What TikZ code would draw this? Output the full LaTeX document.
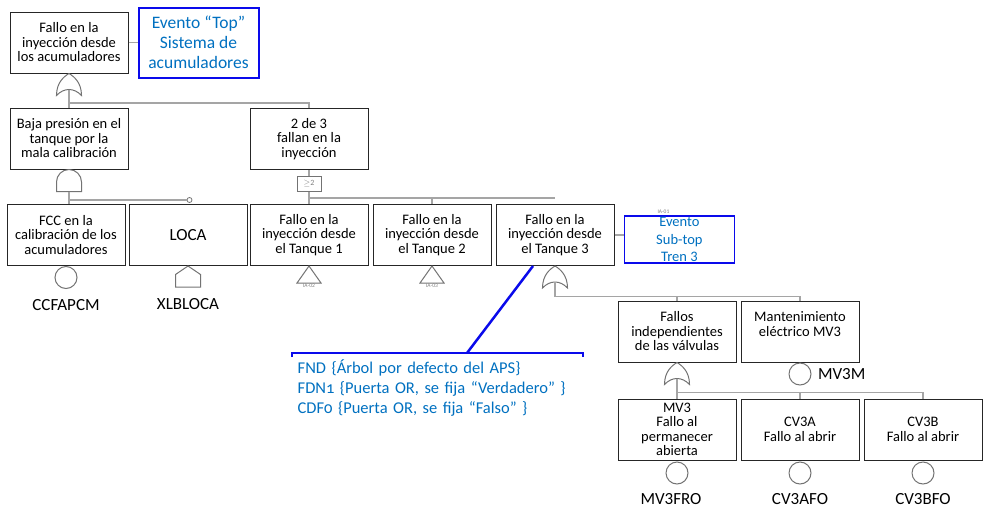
\documentclass[tikz,border=0pt]{standalone}
\usepackage{fontspec}
\setmainfont{Carlito}
\usepackage{xcolor}
\usepackage{tikz}
\usetikzlibrary{calc}
\usetikzlibrary{positioning}

\definecolor{wiregray}{RGB}{165,165,165}
\definecolor{gategray}{RGB}{115,115,115}
\definecolor{apsblue}{RGB}{0,112,192}
\definecolor{markblue}{RGB}{10,10,235}

\begin{document}
\begin{tikzpicture}[x=1pt, y=1pt, node distance=4pt,
	evt/.style={rectangle, draw=black!85, line width=1pt, align=center,
				minimum width=118pt, minimum height=61pt, inner sep=1pt,
				font=\fontsize{14.5}{14.5}\selectfont},
	topev/.style={rectangle, draw=markblue, line width=2pt, align=center,
				text=apsblue, inner sep=0pt},
	basic/.style={circle, draw=gategray, line width=1pt, minimum size=22pt,
				inner sep=0pt},
	lbl/.style={font=\fontsize{17}{17}\selectfont},
	ia/.style={font=\fontsize{5.5}{5.5}\selectfont, text=gray, inner sep=1pt},
	vote/.style={rectangle, draw=gategray, line width=0.8pt, minimum width=24pt,
				minimum height=15pt, inner sep=0pt, text=gray,
				font=\fontsize{8}{8}\selectfont},
	wire/.style={draw=wiregray, line width=1.3pt},
	gate/.style={draw=gategray, line width=1pt},
	note/.style={text=apsblue, align=left, text width=280pt, inner xsep=5.5pt,
				inner ysep=6.5pt, font=\fontsize{16.5}{20}\selectfont},
	bluebar/.style={draw=markblue, line width=2pt},
	orgate/.pic={
		\draw[gate] (-12.5,-22) .. controls (-12.5,-9) and (-5,-3) .. (0,0)
			.. controls (5,-3) and (12.5,-9) .. (12.5,-22)
			.. controls (5,-14) and (-5,-14) .. (-12.5,-22) -- cycle;
		\coordinate (-in) at (0,-16);
	},
	andgate/.pic={
		\draw[gate] (-12.5,-22) -- (-12.5,-12.5)
			arc[start angle=180, end angle=0, radius=12.5pt] -- (12.5,-22) -- cycle;
		\coordinate (-in) at (0,-22);
	},
	house/.pic={
		\draw[gate] (0,0) -- (12.5,-8.5) -- (12.5,-21) -- (-12.5,-21)
			-- (-12.5,-8.5) -- cycle;
		\coordinate (-base) at (0,-21);
	},
	xfer/.pic={
		\draw[gate] (0,0) -- (12,-17) -- (-12,-17) -- cycle;
		\coordinate (-base) at (0,-17);
	},
]
\useasboundingbox (0,0) rectangle (985,-517);
% top event
\node [evt] (top) at (69,-42.5) {Fallo en la\\inyección desde\\los acumuladores};
\node [topev, minimum width=120pt, minimum height=70pt,
	font=\fontsize{17.5}{20}\selectfont] (evtop) [right=9pt of top]
	{Evento “Top”\\Sistema de\\acumuladores};
\draw [wire] (top.east) -- (top.east -| evtop.west);
\pic (g1) at (top.south) {orgate};
%
\node [evt] (baja) [below=34pt of top] {Baja presión en el\\tanque por la\\mala calibración};
\draw [wire] (g1-in) -- (baja.north);
\pic (g2) at (baja.south) {andgate};
%
\node [evt] (fcc) at (66,-235) {FCC en la\\calibración de los\\acumuladores};
\node [evt, font=\fontsize{17}{17}\selectfont] (loca) [right=3pt of fcc] {LOCA};
\node [evt] (t1) [right=2pt of loca] {Fallo en la\\inyección desde\\el Tanque 1};
\node [evt] (t2) [right=of t1] {Fallo en la\\inyección desde\\el Tanque 2};
\node [evt] (t3) [right=of t2] {Fallo en la\\inyección desde\\el Tanque 3};
\node [evt] (dos) [above=34pt of t1] {2 de 3\\fallan en la\\inyección};
\draw [wire] (g1-in) |- ([yshift=5pt]dos.north) -- (dos.north);
%
\node [circle, fill=white, draw=gategray, line width=0.8pt, inner sep=0pt,
	minimum size=5pt] (c1) at ([xshift=1.5pt, yshift=4pt]loca.north) {};
\draw [wire] (g2-in) -- (g2-in |- fcc.north);
\draw [wire] (g2-in) |- (c1);
\node [basic] (bfcc) [below=0pt of fcc] {};
\node [lbl] (lfcc) [below=7pt of bfcc] {CCFAPCM};
\pic (h1) at (loca.south) {house};
\node [lbl] (lloca) [below=8pt of h1-base] {XLBLOCA};
%
\node [vote] (k) [below=6pt of dos] {$\geq$2};
\draw [wire] (dos.south) -- (k.north);
\draw [wire] (k.south) -- (t1.north);
\draw [wire] (k.south) |- ([yshift=6pt]t3.north);
\draw [wire] ([yshift=6pt]t2.north) -- (t2.north);
\pic (x1) at (t1.south) {xfer};
\node [ia] (ia2) [below=0pt of x1-base] {IA-02};
\pic (x2) at (t2.south) {xfer};
\node [ia] (ia3) [below=0pt of x2-base] {IA-03};
%
\node [topev, minimum width=110pt, minimum height=47pt, line width=1.8pt,
	font=\fontsize{14.5}{17.5}\selectfont] (evsub) [right=9pt of t3, yshift=-4.5pt]
	{Evento\\Sub-top\\Tren 3};
\draw [wire] (t3.east) -- (t3.east -| evsub.west);
\node [ia] (ia1) [above=0pt of evsub.north, xshift=-16pt] {IA-01};
\pic (g3) at (t3.south) {orgate};
%
\node [evt] (fallos) at (677,-331.5) {Fallos\\independientes\\de las válvulas};
\node [evt] (mant) [right=of fallos] {Mantenimiento\\eléctrico MV3\\~};
\draw [wire] (g3-in) |- ([yshift=4pt]mant.north) -- (mant.north);
\draw [wire] ([yshift=4pt]fallos.north) -- (fallos.north);
\node [basic] (bmant) [below=0pt of mant] {};
\node [lbl] (lmant) [right=3pt of bmant] {MV3M};
\pic (g4) at (fallos.south) {orgate};
%
\node [evt] (mv3) [below=36pt of fallos] {MV3\\Fallo al\\permanecer\\abierta};
\node [evt] (cv3a) [right=of mv3] {CV3A\\Fallo al abrir};
\node [evt] (cv3b) [right=of cv3a] {CV3B\\Fallo al abrir};
\draw [wire] (g4-in) -- (g4-in |- mv3.north);
\draw [wire] (g4-in) |- ([yshift=6pt]cv3b.north) -- (cv3b.north);
\draw [wire] ([yshift=6pt]cv3a.north) -- (cv3a.north);
\node [basic] (bmv3) [below=1pt of mv3] {};
\node [basic] (bcv3a) [below=1pt of cv3a] {};
\node [basic] (bcv3b) [below=1pt of cv3b] {};
\node [lbl] (lmv3) [below=5pt of bmv3, xshift=-6pt] {MV3FRO};
\node [lbl] (lcv3a) [below=5pt of bcv3a] {CV3AFO};
\node [lbl] (lcv3b) [below=5pt of bcv3b] {CV3BFO};
% note on the tank 3 gate
\node [note, anchor=north west] (note) at (292,-353)
	{FND \{Árbol por defecto del APS\}\\
	FDN{\addfontfeatures{Numbers=OldStyle}1} \{Puerta OR, se fija “Verdadero” \}\\
	CDF{\addfontfeatures{Numbers=OldStyle}0} \{Puerta OR, se fija “Falso” \}};
\draw [bluebar] ([yshift=-4pt]note.north west) -- (note.north west)
	-- (note.north east) -- ([yshift=-4pt]note.north east);
\coordinate (nb) at ([xshift=175pt]note.north west);
\draw [bluebar, line width=2.5pt] (nb) -- ([xshift=-22pt]t3.south);
\end{tikzpicture}
\end{document}
